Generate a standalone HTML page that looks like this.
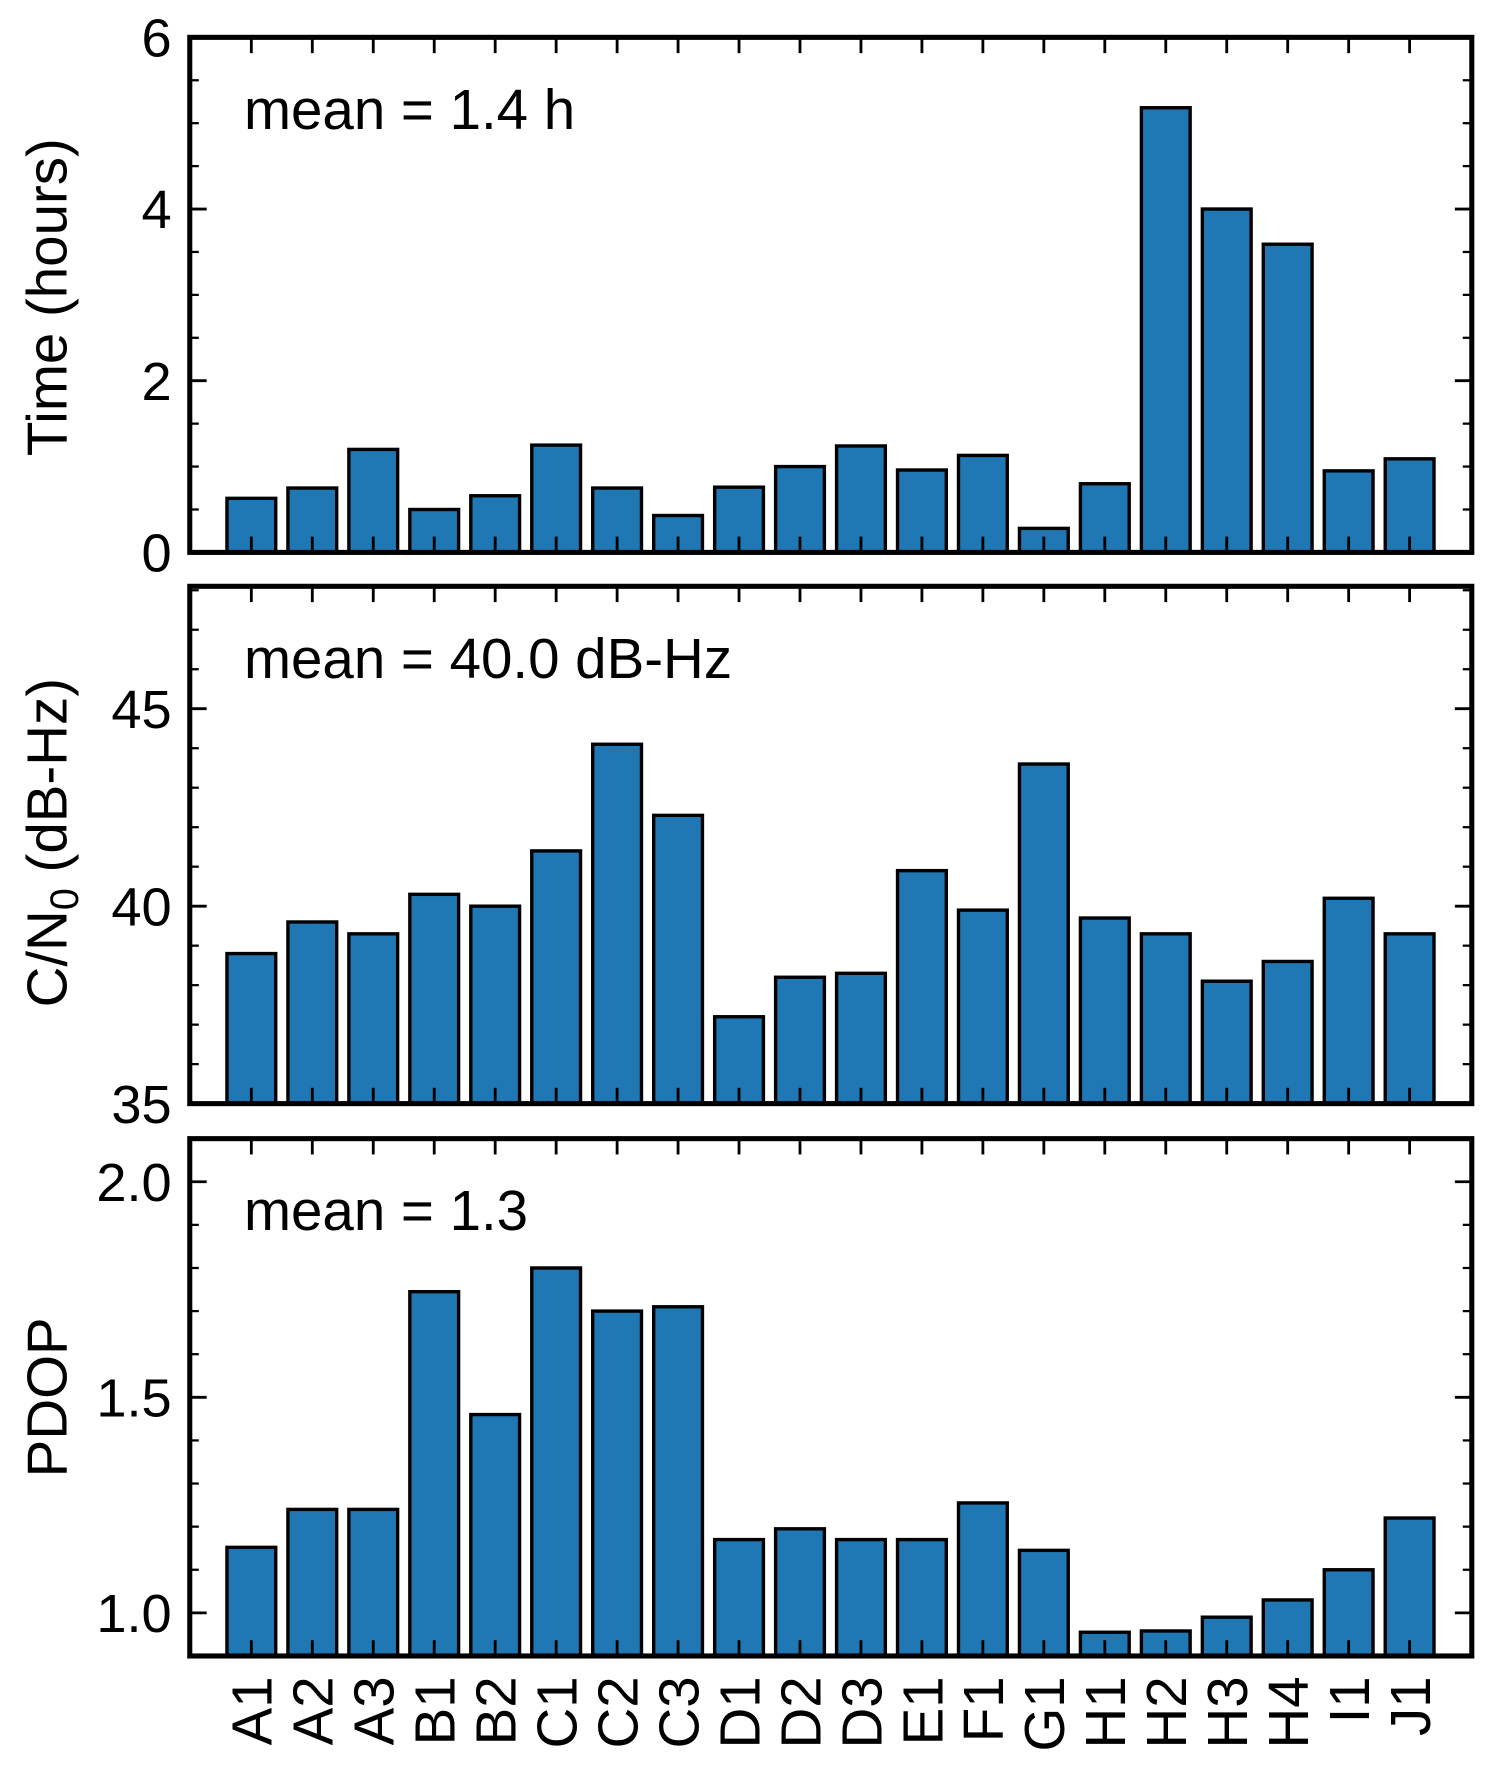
<!DOCTYPE html>
<html><head><meta charset="utf-8"><style>
html,body{margin:0;padding:0;background:#fff;}
svg{display:block;font-family:"Liberation Sans",Arial,sans-serif;}
</style></head><body>
<svg id="chart" width="1491" height="1769" viewBox="0 0 1320 1566" xmlns="http://www.w3.org/2000/svg"></svg>
<script>
const categories = ["A1","A2","A3","B1","B2","C1","C2","C3","D1","D2","D3","E1","F1","G1","H1","H2","H3","H4","I1","J1"];
const timeValues = [0.63,0.75,1.2,0.5,0.66,1.25,0.75,0.43,0.76,1.0,1.24,0.96,1.13,0.28,0.8,5.18,4.0,3.59,0.95,1.09];
const cn0Values = [38.8,39.6,39.3,40.3,40.0,41.4,44.1,42.3,37.2,38.2,38.3,40.9,39.9,43.6,39.7,39.3,38.1,38.6,40.2,39.3];
const pdopValues = [1.152,1.24,1.24,1.745,1.46,1.80,1.70,1.71,1.17,1.195,1.17,1.17,1.255,1.145,0.955,0.958,0.99,1.03,1.10,1.22];
const timeTicks = [0,2,4,6];
const cn0Ticks = [35,40,45];
const pdopTicks = [1.0,1.5,2.0];
const timeTickLabels = ["0","2","4","6"];
const cn0TickLabels = ["35","40","45"];
const pdopTickLabels = ["1.0","1.5","2.0"];

const NS="http://www.w3.org/2000/svg";
const svg=document.getElementById('chart');
function mk(tag,attrs,parent){const e=document.createElementNS(NS,tag);for(const k in attrs)e.setAttribute(k,attrs[k]);(parent||svg).appendChild(e);return e;}
const L=168,R=1303;
const xmin=-1.01,xmax=20.02;
function xs(i){return L+(i-xmin)/(xmax-xmin)*(R-L);}

const panels=[
 {name:'time',top:33,bottom:489,ymin:0,ymax:6,vals:timeValues,ticks:timeTicks,labels:timeTickLabels,minor:0.5,ylabel:'Time (hours)',mean:'mean = 1.4 h'},
 {name:'cn0',top:519,bottom:977,ymin:35,ymax:48.1,vals:cn0Values,ticks:cn0Ticks,labels:cn0TickLabels,minor:1,ylabel:'CN0',mean:'mean = 40.0 dB-Hz'},
 {name:'pdop',top:1008,bottom:1466,ymin:0.9,ymax:2.1,vals:pdopValues,ticks:pdopTicks,labels:pdopTickLabels,minor:0.1,ylabel:'PDOP',mean:'mean = 1.3'}
];
panels.forEach((p,pi)=>{
 const g=mk('g',{});
 
 
 const ys=v=>p.bottom-(v-p.ymin)/(p.ymax-p.ymin)*(p.bottom-p.top);
 const cy=v=>Math.max(p.top,Math.min(p.bottom,ys(v)));
 p.vals.forEach((v,i)=>{
  const x0=xs(i-0.4),x1=xs(i+0.4);
  const y=cy(v);
  const r=mk('rect',{x:x0,y:y,width:x1-x0,height:p.bottom-y,fill:'#1f77b4',stroke:'#000','stroke-width':3},g);
  
  
 });
 categories.forEach((c,i)=>{
  const x=xs(i);
  mk('line',{x1:x,x2:x,y1:p.bottom,y2:p.bottom-14,stroke:'#000','stroke-width':2.5},g);
  mk('line',{x1:x,x2:x,y1:p.top,y2:p.top+14,stroke:'#000','stroke-width':2.5},g);
 });
 const start=Math.ceil(p.ymin/p.minor-1e-6);
 for(let k=start;k*p.minor<=p.ymax+1e-9;k++){
  const v=k*p.minor;const y=ys(v);
  if(y<p.top+1||y>p.bottom-1)continue;
  mk('line',{x1:L,x2:L+8,y1:y,y2:y,stroke:'#000','stroke-width':2},g);
  mk('line',{x1:R,x2:R-8,y1:y,y2:y,stroke:'#000','stroke-width':2},g);
 }
 p.ticks.forEach((v,k)=>{
  const y=ys(v);
  mk('line',{x1:L,x2:L+15,y1:y,y2:y,stroke:'#000','stroke-width':2.5},g);
  mk('line',{x1:R,x2:R-15,y1:y,y2:y,stroke:'#000','stroke-width':2.5},g);
  const t=mk('text',{x:L-16,y:y+17,'text-anchor':'end','font-size':48},g);
  t.textContent=p.labels[k];
  
  
 });
 const fr=mk('rect',{x:L,y:p.top,width:R-L,height:p.bottom-p.top,fill:'none',stroke:'#000','stroke-width':4.5},g);
 
 
 const m=mk('text',{x:216,y:p.top+81,'font-size':50},g);
 m.textContent=p.mean;
 
 
 const cyl=(p.top+p.bottom)/2+(pi===0?2:(pi===1?-2:0));
 const yl=mk('text',{x:0,y:0,'text-anchor':'middle','font-size':50,transform:`translate(59,${cyl}) rotate(-90)`},g);
 if(p.ylabel==='CN0'){
  yl.appendChild(document.createTextNode('C/N'));
  const sub=mk('tspan',{'font-size':35,dy:10},yl);sub.textContent='0';
  const rest=mk('tspan',{dy:-10},yl);rest.textContent=' (dB-Hz)';
 } else yl.textContent=p.ylabel;
 
 
});
categories.forEach((c,i)=>{
 const t=mk('text',{x:0,y:0,'text-anchor':'end','font-size':50,transform:`translate(${xs(i)+18},1484) rotate(-90)`});
 t.textContent=c;
 
 
});
</script>
</body></html>
